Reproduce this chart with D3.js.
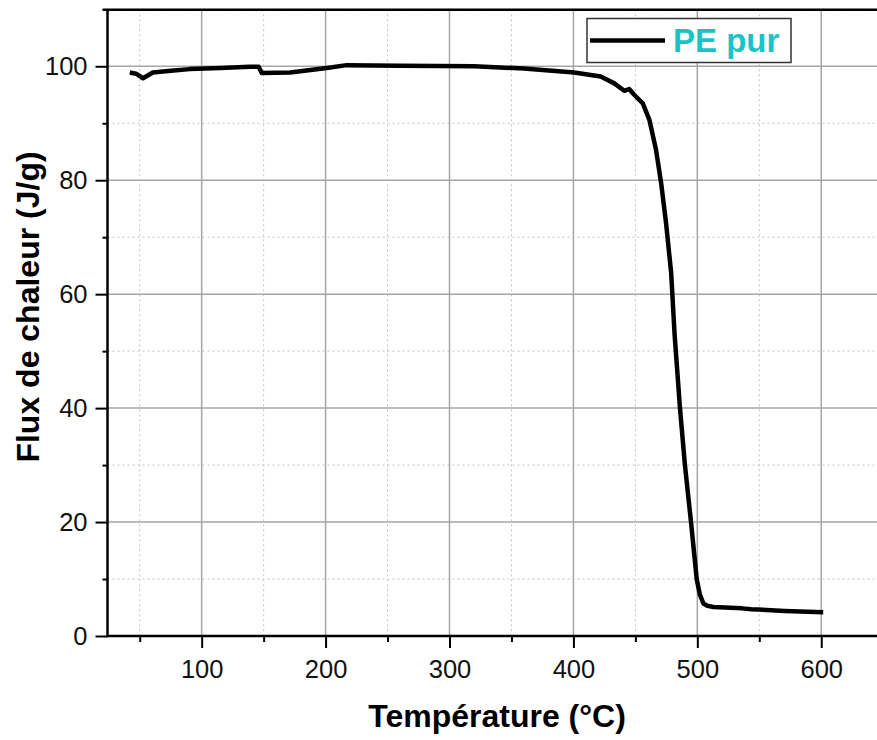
<!DOCTYPE html>
<html>
<head>
<meta charset="utf-8">
<script src="https://cdn.jsdelivr.net/npm/d3@7"></script>
<style>
  body { margin: 0; background: #fff; }
  text { font-family: Arial, "Liberation Sans", sans-serif; }
</style>
</head>
<body>
<svg id="chart" width="877" height="740"></svg>
<script>
// values
var temperature = [42, 47, 52.7, 60.6, 75, 90.5, 115, 139, 146, 148.5, 171.4, 201, 217, 260, 320, 360,
  400.6, 422, 433, 441, 445, 449, 456, 461.3, 466.7, 470.8, 474.8, 478.9, 481.6, 486, 490, 494.9,
  499.5, 502, 504.9, 508, 513, 536, 543.6, 570.5, 601.6];
var flux = [98.9, 98.7, 97.9, 98.9, 99.2, 99.5, 99.7, 99.9, 99.9, 98.8, 98.9, 99.7, 100.2, 100.1, 100.0, 99.6,
  98.9, 98.2, 97.0, 95.7, 96.0, 95.0, 93.5, 90.6, 85.3, 79.5, 72.4, 63.7, 53.1, 40, 30, 20,
  10, 7.3, 5.7, 5.3, 5.1, 4.85, 4.7, 4.4, 4.15];
var xMajor = [100, 200, 300, 400, 500, 600];
var xMinor = [50, 150, 250, 350, 450, 550];
var yMajor = [0, 20, 40, 60, 80, 100];
var yMinor = [10, 30, 50, 70, 90, 110];
var seriesName = "PE pur";

var svg = d3.select("#chart");
// plot edges (window.top is taken, so no plain "top")
var plotLeft = 107.5, plotRight = 877, plotTop = 9.3, plotBottom = 636;

var x = d3.scaleLinear().domain([24, 645]).range([plotLeft, plotRight]);
var y = d3.scaleLinear().domain([0, 110]).range([plotBottom, plotTop]);

var points = temperature.map(function(t, i) { return {t: t, f: flux[i]}; });

//////////// GRID ////////////
var grid = svg.append("g").attr("class", "grid");
grid.selectAll(".xminor").data(xMinor).enter().append("line")
    .attr("x1", function(d) { return x(d); }).attr("x2", function(d) { return x(d); })
    .attr("y1", plotTop).attr("y2", plotBottom)
    .attr("stroke", "#c4c4c4").attr("stroke-width", 1).attr("stroke-dasharray", "2,3");
grid.selectAll(".yminor").data(yMinor).enter().append("line")
    .attr("x1", plotLeft).attr("x2", plotRight)
    .attr("y1", function(d) { return y(d); }).attr("y2", function(d) { return y(d); })
    .attr("stroke", "#c4c4c4").attr("stroke-width", 1).attr("stroke-dasharray", "2,3");
grid.selectAll(".xmajor").data(xMajor).enter().append("line")
    .attr("x1", function(d) { return x(d); }).attr("x2", function(d) { return x(d); })
    .attr("y1", plotTop).attr("y2", plotBottom)
    .attr("stroke", "#a6a6a6").attr("stroke-width", 1.5);
grid.selectAll(".ymajor").data(yMajor.slice(1)).enter().append("line")
    .attr("x1", plotLeft).attr("x2", plotRight)
    .attr("y1", function(d) { return y(d); }).attr("y2", function(d) { return y(d); })
    .attr("stroke", "#a6a6a6").attr("stroke-width", 1.5);

//////////// AXES ////////////
svg.append("g").attr("transform", "translate(0," + plotBottom + ")")
    .call(d3.axisBottom(x).tickValues(xMajor).tickSize(12).tickPadding(12).tickFormat(d3.format("d")));
svg.append("g").attr("transform", "translate(0," + plotBottom + ")")
    .call(d3.axisBottom(x).tickValues(xMinor).tickSize(6).tickFormat(""));
svg.append("g").attr("transform", "translate(" + plotLeft + ",0)")
    .call(d3.axisLeft(y).tickValues(yMajor).tickSize(12).tickPadding(8).tickFormat(d3.format("d")));
svg.append("g").attr("transform", "translate(" + plotLeft + ",0)")
    .call(d3.axisLeft(y).tickValues(yMinor.slice(0, 5)).tickSize(5).tickFormat(""));

svg.selectAll(".domain").remove();
svg.selectAll(".tick line").attr("stroke", "#000").attr("stroke-width", 2);
svg.selectAll(".tick text").attr("font-size", 25.5).attr("fill", "#111");

// axis frame: left, bottom and top (no right border)
svg.append("line").attr("x1", plotLeft).attr("x2", plotLeft).attr("y1", plotTop).attr("y2", plotBottom + 1)
    .attr("stroke", "#000").attr("stroke-width", 2.5);
svg.append("line").attr("x1", plotLeft - 1).attr("x2", plotRight).attr("y1", plotBottom).attr("y2", plotBottom)
    .attr("stroke", "#000").attr("stroke-width", 2.5);
svg.append("line").attr("x1", plotLeft - 5).attr("x2", plotRight).attr("y1", plotTop + 0.5).attr("y2", plotTop + 0.5)
    .attr("stroke", "#000").attr("stroke-width", 2.5);

//////////// CURVE ////////////
var line = d3.line()
    .x(function(d) { return x(d.t); })
    .y(function(d) { return y(d.f); });
svg.append("path").datum(points)
    .attr("d", line)
    .attr("fill", "none")
    .attr("stroke", "#000")
    .attr("stroke-width", 4.5)
    .attr("stroke-linejoin", "round");

//////////// LEGEND ////////////
var legend = svg.append("g").attr("transform", "translate(587,18.5)");
legend.append("rect").attr("width", 204).attr("height", 44)
    .attr("fill", "#fff").attr("stroke", "#333").attr("stroke-width", 1.5);
legend.append("line").attr("x1", 3).attr("x2", 78).attr("y1", 22).attr("y2", 22)
    .attr("stroke", "#000").attr("stroke-width", 4.5);
legend.append("text").attr("x", 86).attr("y", 33)
    .attr("font-size", 33).attr("font-weight", "bold").attr("fill", "#19c4c6")
    .text(seriesName);

//////////// TITLES ////////////
svg.append("text")
    .attr("x", 497).attr("y", 727)
    .attr("text-anchor", "middle")
    .attr("font-size", 32).attr("font-weight", "bold")
    .text("Température (°C)");
svg.append("text")
    .attr("transform", "translate(39,307) rotate(-90)")
    .attr("text-anchor", "middle")
    .attr("font-size", 32).attr("font-weight", "bold")
    .text("Flux de chaleur (J/g)");
</script>
</body>
</html>
